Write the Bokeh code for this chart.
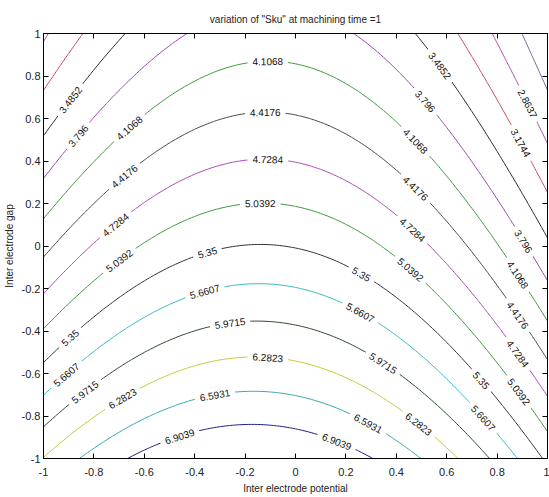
import math
import numpy as np
from bokeh.plotting import figure
from bokeh.models import (LinearAxis, FixedTicker, NumeralTickFormatter, ColumnDataSource,
                          Range1d, CustomJSTickFormatter)
from bokeh.core.properties import value
from bokeh.embed import file_html
from bokeh.resources import INLINE

# quadratic response-surface coefficients
coef_b0 = 5.3346
coef_x = -0.392
coef_y = -1.6276
coef_xx = -1.40
coef_yy = 0.228
coef_xy = 0.112

levels = [2.5529, 2.8637, 3.1744, 3.4852, 3.796, 4.1068, 4.4176, 4.7284,
          5.0392, 5.35, 5.6607, 5.9715, 6.2823, 6.5931, 6.9039]
level_colors = ["#6a6aa8", "#b050a8", "#c44a5a", "#262626", "#9a48b0", "#3c9a3c",
                "#4a4a4a", "#b048b8", "#3c9a3c", "#333333", "#38b8c8", "#2e4a2e",
                "#c8c838", "#38a8b0", "#20208a"]
ticks = [-1, -0.8, -0.6, -0.4, -0.2, 0, 0.2, 0.4, 0.6, 0.8, 1]

label_levels = [3.4852, 3.796, 4.1068, 4.4176, 4.7284, 5.0392, 5.35, 5.6607, 5.9715, 6.2823,
                4.1068, 4.4176, 4.7284, 5.0392, 5.35, 5.6607, 5.9715, 6.2823, 6.5931, 6.9039,
                6.9039, 6.5931, 6.2823, 5.9715, 5.6607, 5.35, 5.0392, 4.7284, 4.4176, 4.1068,
                3.796, 3.4852, 5.35, 5.6607, 5.0392, 4.7284, 4.4176, 4.1068, 3.796, 3.1744, 2.8637]
label_x = [-0.894, -0.863, -0.66, -0.68, -0.715, -0.70, -0.895, -0.91, -0.836, -0.687,
           -0.11, -0.12, -0.11, -0.14, -0.35, -0.36, -0.26, -0.11, -0.32, -0.46,
           0.164, 0.289, 0.49, 0.348, 0.258, 0.262, 0.457, 0.465, 0.477, 0.477,
           0.516, 0.574, 0.738, 0.746, 0.887, 0.883, 0.883, 0.883, 0.906, 0.895, 0.922]

FONT = "Liberation Sans"

def surface(x, y):
    return (coef_b0 + coef_x * x + coef_y * y + coef_xx * x * x
            + coef_yy * y * y + coef_xy * x * y)

gx = np.linspace(-1, 1, 161)
gy = np.linspace(-1, 1, 161)
X, Y = np.meshgrid(gx, gy)
Z = surface(X, Y)

p = figure(width=549, height=497, output_backend="svg", toolbar_location=None,
           x_range=Range1d(-1, 1), y_range=Range1d(-1, 1),
           min_border_left=35, min_border_right=2, min_border_top=33, min_border_bottom=39,
           title='variation of "Sku" at machining time =1')
p.background_fill_color = "white"
p.border_fill_color = "white"
p.outline_line_color = "black"
p.outline_line_width = 1
p.grid.visible = False
p.title.align = "center"
p.title.text_font = FONT
p.title.text_font_size = "10px"
p.title.text_font_style = "normal"
p.title.text_color = "#222222"
p.title.standoff = 17

p.contour(x=gx, y=gy, z=Z, levels=levels, line_color=level_colors, line_width=1)

# label positions on the contours
lx, ly, lt, la = [], [], [], []
sx = 512 / 2.0
sy = 425 / 2.0
for lev, x in zip(label_levels, label_x):
    a = coef_yy
    b = coef_y + coef_xy * x
    c = coef_b0 + coef_x * x + coef_xx * x * x - lev
    d = math.sqrt(max(b * b - 4 * a * c, 0.0))
    roots = [(-b - d) / (2 * a), (-b + d) / (2 * a)]
    y = min(roots, key=lambda r: abs(r))
    gxv = coef_x + 2 * coef_xx * x + coef_xy * y
    gyv = coef_y + 2 * coef_yy * y + coef_xy * x
    ang = math.atan2(gxv * sy, -gyv * sx)
    if ang > math.pi / 2:
        ang -= math.pi
    if ang < -math.pi / 2:
        ang += math.pi
    lx.append(x); ly.append(y); lt.append(f"{lev:g}"); la.append(ang)

src = ColumnDataSource(dict(x=lx, y=ly, t=lt, a=la))
p.text(x="x", y="y", text="t", angle="a", source=src, text_font=value(FONT),
       text_font_size="10px", text_color="#111111", text_align="center",
       text_baseline="middle", background_fill_color="white", padding=(5, 0))

for ax in (p.xaxis[0], p.yaxis[0]):
    ax.ticker = FixedTicker(ticks=ticks)
    ax.formatter = NumeralTickFormatter(format="0.[0]")
    ax.major_tick_in = 5
    ax.major_tick_out = 0
    ax.minor_tick_line_color = None
    ax.axis_line_color = "black"
    ax.major_tick_line_color = "black"
    ax.major_label_text_font = FONT
    ax.major_label_text_font_size = "11px"
    ax.major_label_text_color = "#222222"
    ax.axis_label_text_font = FONT
    ax.axis_label_text_font_size = "10px"
    ax.axis_label_text_font_style = "normal"
    ax.axis_label_text_color = "#222222"

p.xaxis[0].major_label_standoff = 9
p.xaxis[0].axis_label_standoff = 4
p.yaxis[0].major_label_standoff = 3
p.yaxis[0].axis_label_standoff = 4

p.xaxis[0].axis_label = "Inter electrode potential"
p.yaxis[0].axis_label = "Inter electrode gap"

for loc in ("above", "right"):
    ax = LinearAxis(ticker=FixedTicker(ticks=ticks))
    ax.formatter = CustomJSTickFormatter(code="return ''")
    ax.major_tick_in = 5
    ax.major_tick_out = 0
    ax.minor_tick_line_color = None
    ax.major_label_standoff = 0
    ax.axis_line_color = "black"
    ax.major_tick_line_color = "black"
    p.add_layout(ax, loc)

open("out.html", "w").write(file_html(p, INLINE))
